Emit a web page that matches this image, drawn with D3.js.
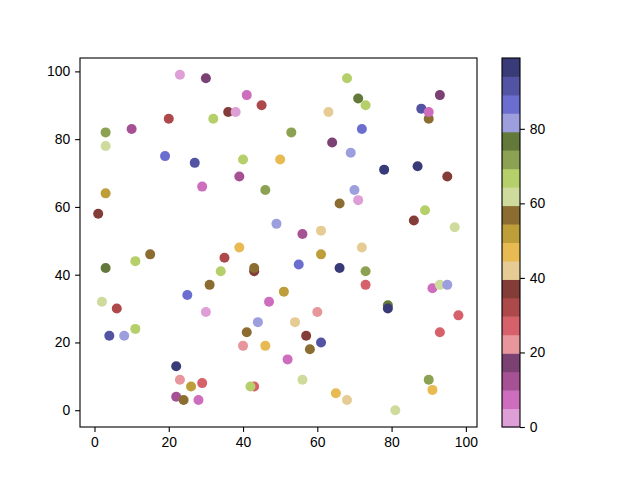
<!DOCTYPE html>
<html>
<head>
<meta charset="utf-8">
<script src="https://cdn.jsdelivr.net/npm/d3@7"></script>
<style>
  body { margin: 0; background: #fff; }
  svg text { font-family: "Liberation Sans", Arial, sans-serif; font-size: 13.9px; fill: #000; }
</style>
</head>
<body>
<svg width="640" height="480"></svg>
<script>
// scatter data: x, y and the colour value c
const xs = [23, 30, 68, 41, 71, 73, 36, 38, 45, 63, 20, 32, 3, 10, 3, 19, 27, 53, 64, 69,
  40, 50, 39, 93, 88, 90, 90, 72, 78, 87, 95, 70, 71, 89, 86, 97, 72, 73, 73, 91,
  93, 95, 79, 79, 66, 46, 49, 56, 61, 39, 35, 34, 43, 43, 55, 61, 66, 51, 47, 31,
  3, 29, 1, 15, 11, 3, 25, 2, 6, 30, 4, 8, 11, 22, 23, 26, 29, 22, 24, 28,
  60, 44, 54, 41, 40, 46, 57, 61, 58, 52, 56, 43, 42, 65, 68, 98, 93, 90, 91, 81]
const ys = [99, 98, 98, 93, 92, 90, 88, 88, 90, 88, 86, 86, 82, 83, 78, 75, 73, 82, 79, 76,
  74, 74, 69, 93, 89, 86, 88, 83, 71, 72, 69, 65, 62, 59, 56, 54, 48, 41, 37, 36,
  37, 37, 31, 30, 61, 65, 55, 52, 53, 48, 45, 41, 41, 42, 43, 46, 42, 35, 32, 37,
  64, 66, 58, 46, 44, 42, 34, 32, 30, 29, 22, 22, 24, 13, 9, 7, 8, 4, 3, 3,
  29, 26, 26, 23, 19, 19, 22, 20, 18, 15, 9, 7, 7, 5, 3, 28, 23, 9, 6, 0]
const cs = [0, 17, 67, 7, 77, 67, 37, 2, 32, 42, 32, 67, 72, 12, 62, 87, 92, 72, 17, 82,
  67, 47, 12, 17, 92, 57, 7, 87, 97, 97, 37, 82, 2, 67, 37, 62, 42, 72, 27, 7,
  62, 82, 77, 99, 57, 72, 82, 12, 42, 47, 32, 67, 37, 57, 87, 52, 97, 52, 7, 57,
  52, 7, 37, 57, 67, 77, 87, 62, 32, 2, 92, 82, 67, 97, 22, 52, 27, 12, 57, 7,
  22, 82, 42, 57, 22, 47, 37, 92, 57, 7, 62, 27, 67, 47, 42, 27, 27, 72, 47, 62]

const xTicks = [0, 20, 40, 60, 80, 100]
const yTicks = [0, 20, 40, 60, 80, 100]
const cTicks = [0, 20, 40, 60, 80]

// tab20b, reversed
const palette = ["#393b79", "#5254a3", "#6b6ecf", "#9c9ede", "#637939", "#8ca252", "#b5cf6b", "#cedb9c",
  "#8c6d31", "#bd9e39", "#e7ba52", "#e7cb94", "#843c39", "#ad494a", "#d6616b", "#e7969c",
  "#7b4173", "#a55194", "#ce6dbd", "#de9ed6"].reverse()

const points = xs.map((x, i) => ({ x: x, y: ys[i], c: cs[i] }))

const svg = d3.select('svg')

const plotLeft = 80, plotRight = 477, plotTop = 58, plotBottom = 427

const x = d3.scaleLinear().domain([-3.9, 103]).range([plotLeft, plotRight])
const y = d3.scaleLinear().domain([-4.95, 103.95]).range([plotBottom, plotTop])

const cMin = d3.min(cs), cMax = d3.max(cs)
const color = d3.scaleQuantize().domain([cMin, cMax]).range(palette)

svg.append('g')
  .selectAll('circle')
  .data(points)
  .enter().append('circle')
    .attr('cx', d => x(d.x))
    .attr('cy', d => y(d.y))
    .attr('r', 5)
    .attr('fill', d => color(d.c))

svg.append('rect')
  .attr('x', plotLeft).attr('y', plotTop)
  .attr('width', plotRight - plotLeft).attr('height', plotBottom - plotTop)
  .attr('fill', 'none').attr('stroke', '#000').attr('stroke-width', 1.1)

const xAxis = svg.append('g')
  .attr('transform', `translate(0,${plotBottom})`)
  .call(d3.axisBottom(x).tickValues(xTicks).tickSize(4.9).tickPadding(4.9))
const yAxis = svg.append('g')
  .attr('transform', `translate(${plotLeft},0)`)
  .call(d3.axisLeft(y).tickValues(yTicks).tickSize(4.9).tickPadding(4.9))

// colorbar
const cbLeft = 502, cbRight = 520
const cy = d3.scaleLinear().domain([cMin, cMax]).range([plotBottom, plotTop])
const step = (cMax - cMin) / palette.length

svg.append('g')
  .selectAll('rect')
  .data(palette)
  .enter().append('rect')
    .attr('x', cbLeft)
    .attr('width', cbRight - cbLeft)
    .attr('y', (d, i) => cy(cMin + (i + 1) * step))
    .attr('height', (d, i) => cy(cMin + i * step) - cy(cMin + (i + 1) * step) + 0.5)
    .attr('fill', d => d)

svg.append('rect')
  .attr('x', cbLeft).attr('y', plotTop)
  .attr('width', cbRight - cbLeft).attr('height', plotBottom - plotTop)
  .attr('fill', 'none').attr('stroke', '#000').attr('stroke-width', 1.1)

const cAxis = svg.append('g')
  .attr('transform', `translate(${cbRight},0)`)
  .call(d3.axisRight(cy).tickValues(cTicks).tickSize(4.9).tickPadding(4.9))

for (const ax of [xAxis, yAxis, cAxis]) {
  ax.select('.domain').remove()
  ax.selectAll('line').attr('stroke', '#000').attr('stroke-width', 1.1)
  ax.selectAll('text').attr('font-size', null).attr('font-family', null).attr('fill', '#000')
}
</script>
</body>
</html>
